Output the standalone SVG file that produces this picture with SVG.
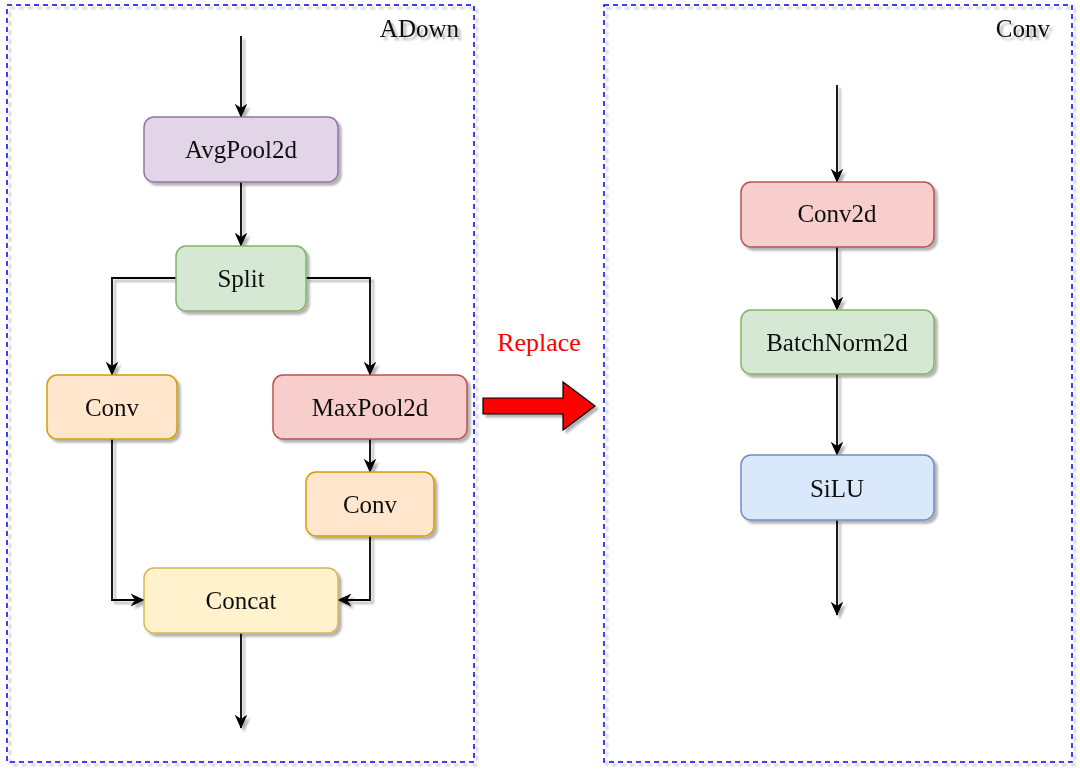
<svg xmlns="http://www.w3.org/2000/svg" width="1080" height="770" viewBox="0 0 1080 770">
<defs>
<filter id="sh" x="-10%" y="-10%" width="130%" height="130%">
<feGaussianBlur in="SourceAlpha" stdDeviation="1.2" result="b"/>
<feOffset in="b" dx="3" dy="3" result="o"/>
<feComponentTransfer in="o" result="s"><feFuncA type="linear" slope="0.3"/></feComponentTransfer>
<feMerge><feMergeNode in="s"/><feMergeNode in="SourceGraphic"/></feMerge>
</filter>
<marker id="ah" viewBox="0 0 10 10" refX="9.5" refY="5" markerWidth="14" markerHeight="14" markerUnits="userSpaceOnUse" orient="auto">
<path d="M0,0.5 L10,5 L0,9.5 L3,5 Z" fill="#000"/>
</marker>
</defs>
<style>
.frame{fill:none;stroke:#0000ff;stroke-width:1.5;stroke-dasharray:5 4}
.t{font-family:"Liberation Serif","Times New Roman",serif;font-size:25px;fill:#111;text-anchor:middle}
.lab{font-family:"Liberation Serif","Times New Roman",serif;font-size:25px;fill:#111;text-anchor:end}
.c{fill:none;stroke:#000;stroke-width:1.8;marker-end:url(#ah)}
.pur{fill:#e1d5e7;stroke:#9673a6;stroke-width:1.5}
.grn{fill:#d5e8d4;stroke:#82b366;stroke-width:1.5}
.org{fill:#ffe6cc;stroke:#d79b00;stroke-width:1.5}
.red{fill:#f8cecc;stroke:#b85450;stroke-width:1.5}
.yel{fill:#fff2cc;stroke:#d6b656;stroke-width:1.5}
.blu{fill:#dae8fc;stroke:#6c8ebf;stroke-width:1.5}
</style>
<rect width="1080" height="770" fill="#fff"/>
<g id="frame-adown" filter="url(#sh)">
<rect class="frame" x="7" y="5" width="467" height="757"/>
<text class="lab" x="459" y="37">ADown</text>
</g>
<g id="frame-conv" filter="url(#sh)">
<rect class="frame" x="604" y="5" width="468" height="757"/>
<text class="lab" x="1050" y="37">Conv</text>
</g>
<g id="connectors" filter="url(#sh)">
<path class="c" d="M241,36 V117"/>
<path class="c" d="M241,182 V246"/>
<path class="c" d="M176,278 H112 V375"/>
<path class="c" d="M306,278 H370 V375"/>
<path class="c" d="M370,439 V472"/>
<path class="c" d="M112,439 V600 H144"/>
<path class="c" d="M370,536 V600 H338"/>
<path class="c" d="M241,633 V728"/>
<path class="c" d="M837,85 V182"/>
<path class="c" d="M837,247 V310"/>
<path class="c" d="M837,374 V455"/>
<path class="c" d="M837,520 V615"/>
</g>
<g id="avgpool" filter="url(#sh)">
<rect class="pur" x="144" y="117" width="194" height="65" rx="10"/>
<text class="t" x="241" y="158">AvgPool2d</text>
</g>
<g id="split" filter="url(#sh)">
<rect class="grn" x="176" y="246" width="130" height="65" rx="10"/>
<text class="t" x="241" y="287">Split</text>
</g>
<g id="conv-left" filter="url(#sh)">
<rect class="org" x="47" y="375" width="130" height="64" rx="10"/>
<text class="t" x="112" y="416">Conv</text>
</g>
<g id="maxpool" filter="url(#sh)">
<rect class="red" x="273" y="375" width="194" height="64" rx="10"/>
<text class="t" x="370" y="416">MaxPool2d</text>
</g>
<g id="conv-right" filter="url(#sh)">
<rect class="org" x="306" y="472" width="128" height="64" rx="10"/>
<text class="t" x="370" y="513">Conv</text>
</g>
<g id="concat" filter="url(#sh)">
<rect class="yel" x="144" y="568" width="194" height="65" rx="10"/>
<text class="t" x="241" y="609">Concat</text>
</g>
<g id="replace">
<text x="539" y="351" font-family="Liberation Serif, Times New Roman, serif" font-size="26" fill="#ff0000" text-anchor="middle">Replace</text>
<path filter="url(#sh)" d="M483,398 H563 V382 L595,406 L563,430 V414 H483 Z" fill="#ff0000" stroke="#000" stroke-width="1.2"/>
</g>
<g id="conv2d" filter="url(#sh)">
<rect class="red" x="741" y="182" width="193" height="65" rx="10"/>
<text class="t" x="837" y="222">Conv2d</text>
</g>
<g id="batchnorm" filter="url(#sh)">
<rect class="grn" x="741" y="310" width="193" height="64" rx="10"/>
<text class="t" x="837" y="351">BatchNorm2d</text>
</g>
<g id="silu" filter="url(#sh)">
<rect class="blu" x="741" y="455" width="193" height="65" rx="10"/>
<text class="t" x="837" y="497">SiLU</text>
</g>
</svg>
